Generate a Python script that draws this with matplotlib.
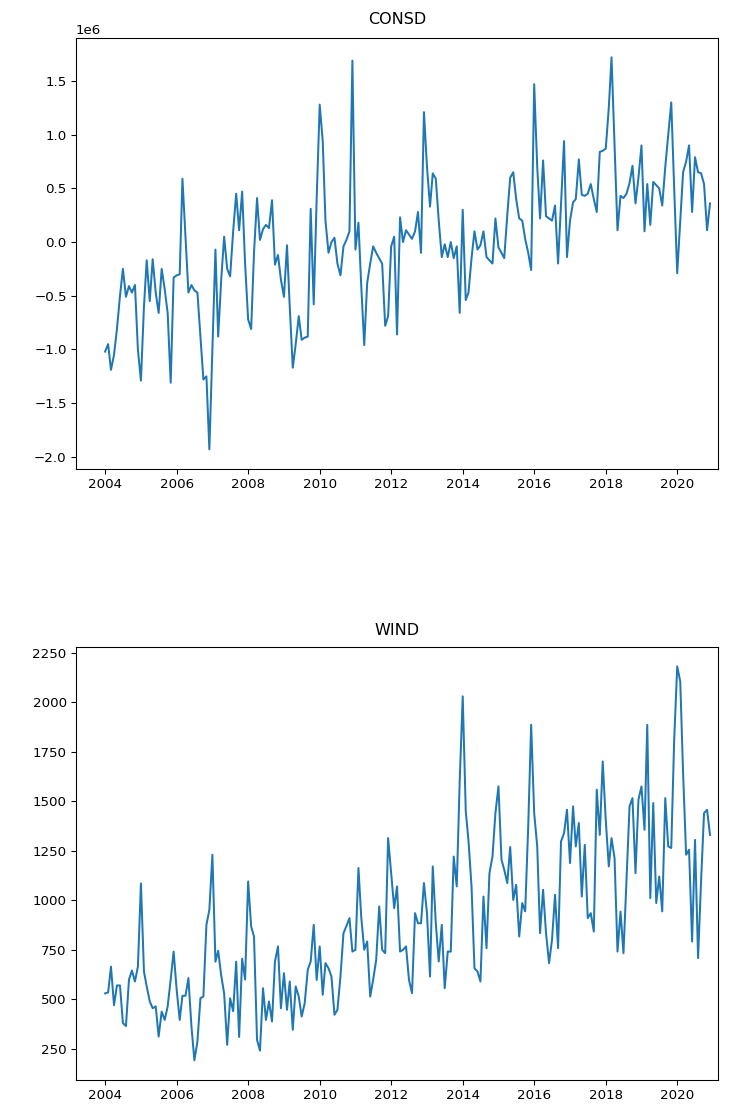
import numpy as np
import pandas as pd
import matplotlib
matplotlib.use("Agg")
import matplotlib.pyplot as plt
import matplotlib.dates as mdates

# monthly series, 2004-01 .. 2020-12
dates = pd.date_range("2004-01-01", periods=204, freq="MS")

# CONSD in millions (axis shows 1e6 offset)
consd_mio = [
    -1.02, -0.95, -1.19, -1.05, -0.81, -0.50, -0.25, -0.51, -0.41, -0.47, -0.40, -1.00,
    -1.29, -0.60, -0.17, -0.55, -0.16, -0.47, -0.66, -0.25, -0.44, -0.66, -1.31, -0.33,
    -0.31, -0.30, 0.59, 0.05, -0.47, -0.40, -0.45, -0.47, -0.88, -1.28, -1.25, -1.93,
    -1.00, -0.07, -0.88, -0.35, 0.05, -0.25, -0.32, 0.10, 0.45, 0.11, 0.47, -0.20,
    -0.72, -0.81, -0.10, 0.41, 0.02, 0.12, 0.16, 0.13, 0.39, -0.21, -0.12, -0.35,
    -0.51, -0.03, -0.60, -1.17, -0.95, -0.69, -0.91, -0.89, -0.88, 0.31, -0.58, 0.40,
    1.28, 0.94, 0.20, -0.10, 0.00, 0.04, -0.20, -0.31, -0.04, 0.02, 0.10, 1.69,
    -0.07, 0.18, -0.40, -0.96, -0.38, -0.20, -0.04, -0.10, -0.15, -0.20, -0.78, -0.69,
    -0.04, 0.05, -0.86, 0.23, 0.00, 0.11, 0.07, 0.03, 0.10, 0.28, -0.10, 1.21,
    0.70, 0.33, 0.64, 0.59, 0.20, -0.14, -0.02, -0.14, 0.00, -0.15, -0.04, -0.66,
    0.30, -0.54, -0.47, -0.15, 0.10, -0.07, -0.03, 0.10, -0.14, -0.17, -0.20, 0.22,
    -0.05, -0.10, -0.15, 0.25, 0.60, 0.65, 0.40, 0.22, 0.20, 0.03, -0.10, -0.26,
    1.47, 0.70, 0.22, 0.76, 0.24, 0.22, 0.20, 0.34, -0.20, 0.35, 0.94, -0.14,
    0.20, 0.37, 0.40, 0.77, 0.44, 0.43, 0.45, 0.54, 0.40, 0.28, 0.84, 0.85,
    0.87, 1.25, 1.72, 0.90, 0.11, 0.43, 0.41, 0.45, 0.55, 0.71, 0.36, 0.60,
    0.90, 0.10, 0.54, 0.16, 0.56, 0.53, 0.50, 0.34, 0.70, 1.00, 1.30, 0.50,
    -0.29, 0.20, 0.65, 0.75, 0.90, 0.28, 0.79, 0.65, 0.64, 0.54, 0.11, 0.36,
]

wind = [
    530, 535, 665, 470, 570, 570, 380, 365, 600, 645, 590, 665,
    1085, 640, 565, 490, 455, 464, 312, 438, 396, 464, 600, 741,
    548, 396, 518, 518, 607, 363, 192, 287, 506, 514, 876, 952,
    1230, 690, 745, 620, 530, 270, 505, 440, 690, 310, 705, 600,
    1095, 868, 817, 295, 241, 556, 396, 489, 388, 691, 767, 455,
    632, 447, 590, 346, 565, 514, 413, 481, 649, 691, 876, 598,
    767, 523, 683, 657, 615, 422, 447, 615, 834, 870, 910, 741,
    750, 1163, 918, 750, 792, 514, 598, 699, 969, 750, 733, 1314,
    1137, 960, 1070, 741, 750, 767, 598, 531, 935, 884, 884, 1087,
    935, 615, 1171, 884, 691, 876, 556, 741, 741, 1221, 1070, 1600,
    2030, 1450, 1300, 1070, 657, 640, 590, 1019, 758, 1137, 1221, 1440,
    1575, 1205, 1154, 1087, 1269, 1002, 1078, 817, 986, 944, 1373, 1886,
    1440, 1272, 834, 1053, 834, 683, 800, 1028, 758, 1297, 1339, 1457,
    1188, 1474, 1272, 1390, 1019, 1280, 910, 935, 842, 1558, 1330, 1701,
    1406, 1171, 1314, 1213, 741, 943, 733, 1100, 1474, 1516, 1137, 1508,
    1575, 1356, 1886, 1011, 1491, 986, 1120, 944, 1516, 1272, 1264, 1810,
    2181, 2105, 1642, 1230, 1255, 792, 1305, 708, 1100, 1440, 1457, 1330,
]

fig = plt.figure(figsize=(731 / 96, 1120 / 96), dpi=96)
ax1 = fig.add_axes([0.104, 0.5813, 0.878, 0.385])
ax2 = fig.add_axes([0.104, 0.0357, 0.878, 0.3869])

ax1.plot(dates, np.array(consd_mio) * 1e6)
ax1.set_title("CONSD", pad=10)

ax2.plot(dates, wind)
ax2.set_title("WIND", pad=9)

for ax in (ax1, ax2):
    ax.set_xlim(pd.Timestamp("2003-03-10"), pd.Timestamp("2021-02-19"))
    ax.xaxis.set_major_locator(mdates.YearLocator(2))
    ax.xaxis.set_major_formatter(mdates.DateFormatter("%Y"))

fig.savefig("out.png", dpi=96)
